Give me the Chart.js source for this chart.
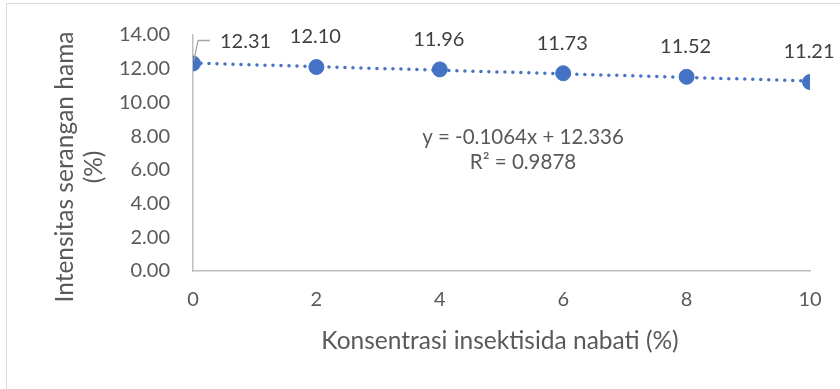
<!DOCTYPE html>
<html>
<head>
<meta charset="utf-8">
<script src="https://cdn.jsdelivr.net/npm/chart.js@4"></script>
<style>
  html, body { margin: 0; padding: 0; background: #fff; }
  #wrap { width: 840px; height: 389px; position: relative; }
</style>
</head>
<body>
<div id="wrap"><canvas id="myChart" width="840" height="389"></canvas></div>
<script>
// data
const concentrations = [0, 2, 4, 6, 8, 10];
const attackIntensity = [12.31, 12.10, 11.96, 11.73, 11.52, 11.21];
const trendX = [0, 10];
const trendY = [12.336, 11.272];
const equationLines = ['y = -0.1064x + 12.336', 'R² = 0.9878'];
const xTitle = 'Konsentrasi insektisida nabati (%)';
const yTitleLines = ['Intensitas serangan hama', '(%)'];

const blue = 'rgb(68, 114, 196)';
const textGrey = '#595959';
const font = 'Lato, "Open Sans", sans-serif';

const decorPlugin = {
    id: 'decor',
    afterDraw(chart) {
        const ctx = chart.ctx;
        const xs = chart.scales.x;
        const ys = chart.scales.y;
        ctx.save();

        // outer frame of the chart object
        ctx.strokeStyle = '#d9d9d9';
        ctx.lineWidth = 1;
        ctx.beginPath();
        ctx.moveTo(6.5, 389);
        ctx.lineTo(6.5, 3.5);
        ctx.lineTo(840, 3.5);
        ctx.stroke();

        // data labels
        ctx.font = '20px ' + font;
        ctx.fillStyle = '#404040';
        ctx.textBaseline = 'middle';
        attackIntensity.forEach((v, i) => {
            const px = xs.getPixelForValue(concentrations[i]);
            const py = ys.getPixelForValue(v);
            const txt = v.toFixed(2);
            if (i === 0) {
                ctx.strokeStyle = '#a6a6a6';
                ctx.lineWidth = 1.3;
                ctx.beginPath();
                ctx.moveTo(px + 1, py - 3);
                ctx.lineTo(px + 5, py - 23);
                ctx.lineTo(px + 17, py - 23);
                ctx.stroke();
                ctx.textAlign = 'left';
                ctx.fillText(txt, px + 27, py - 22);
            } else {
                ctx.textAlign = 'center';
                ctx.fillText(txt, px - 1, py - 30);
            }
        });

        // trendline equation
        ctx.fillStyle = textGrey;
        ctx.textAlign = 'center';
        ctx.font = '20.5px ' + font;
        ctx.fillText(equationLines[0], 550 - 27, 137);
        ctx.fillText(equationLines[1], 523, 162);

        // axis titles
        ctx.font = '24.5px ' + font;
        ctx.fillText(xTitle, 500, 341);
        ctx.translate(79, 167);
        ctx.rotate(-Math.PI / 2);
        ctx.fillText(yTitleLines[0], 0, -14);
        ctx.fillText(yTitleLines[1], 0, 15);
        ctx.restore();
    }
};

const ctx = document.getElementById('myChart').getContext('2d');
new Chart(ctx, {
    type: 'scatter',
    data: {
        datasets: [
            {
                label: 'Trend',
                data: trendX.map((x, i) => ({ x: x, y: trendY[i] })),
                showLine: true,
                borderColor: blue,
                borderWidth: 3.5,
                borderDash: [0, 8],
                borderCapStyle: 'round',
                pointRadius: 0,
                order: 2,
            },
            {
                label: 'Intensitas',
                data: concentrations.map((x, i) => ({ x: x, y: attackIntensity[i] })),
                backgroundColor: blue,
                borderColor: blue,
                pointRadius: 7.5,
                pointHoverRadius: 7.5,
                order: 1,
            },
        ],
    },
    options: {
        responsive: false,
        animation: false,
        events: [],
        layout: { padding: { left: 0, right: 30, top: 31, bottom: 0 } },
        plugins: { legend: { display: false }, tooltip: { enabled: false } },
        scales: {
            x: {
                type: 'linear',
                min: 0,
                max: 10,
                afterFit: (scale) => { scale.height = 118; },
                grid: { display: false, drawTicks: false },
                border: { color: '#bfbfbf', width: 1.5 },
                ticks: { stepSize: 2, color: textGrey, font: { family: font, size: 20 }, padding: 17 },
            },
            y: {
                min: 0,
                max: 14,
                afterFit: (scale) => { scale.width = 193; },
                grid: { display: false, drawTicks: false },
                border: { color: '#bfbfbf', width: 1.5 },
                ticks: {
                    stepSize: 2,
                    color: textGrey,
                    font: { family: font, size: 20 },
                    padding: 23,
                    callback: (v) => v.toFixed(2),
                },
            },
        },
    },
    plugins: [decorPlugin],
});
</script>
</body>
</html>
